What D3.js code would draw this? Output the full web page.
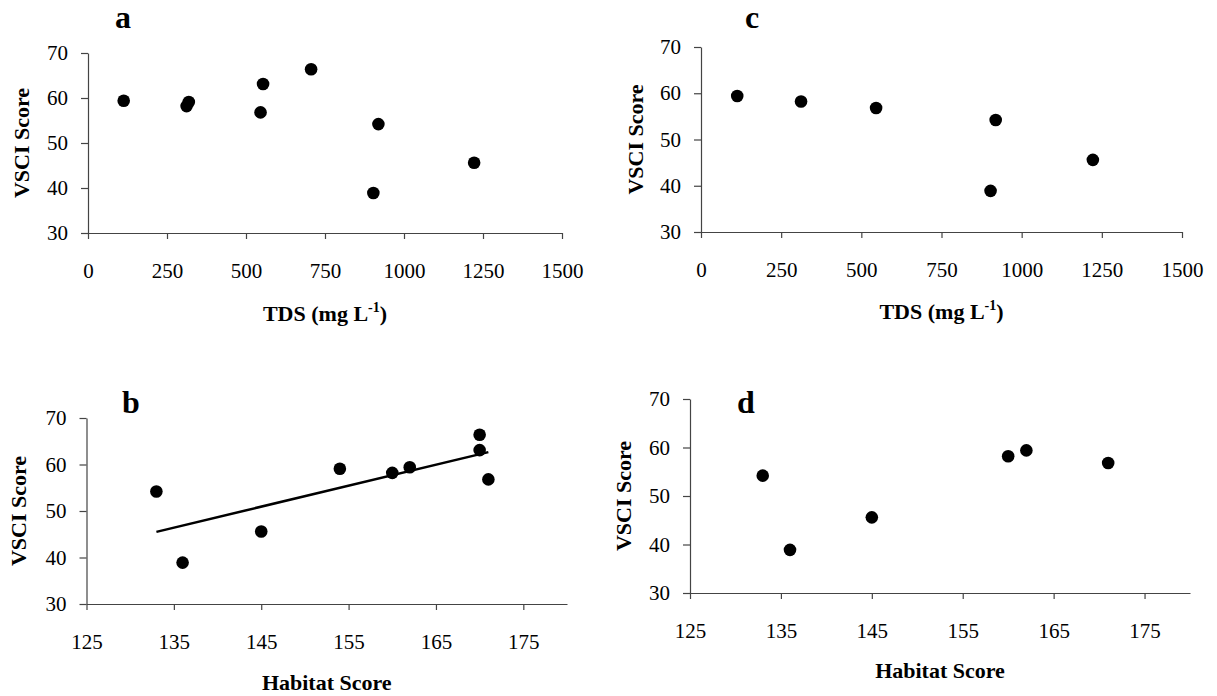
<!DOCTYPE html>
<html>
<head>
  <script src="https://d3js.org/d3.v7.min.js"></script>
  <style>
    body { margin: 0; background: #fff; }
    svg { display: block; }
    .axis path, .axis line { stroke: #444; stroke-width: 1.2px; }
    .title { font-family: "Liberation Serif", "Times New Roman", serif; font-weight: bold; font-size: 22px; fill: #000; }
    .letter { font-family: "Liberation Serif", "Times New Roman", serif; font-weight: bold; font-size: 32px; fill: #000; }
  </style>
</head>
<body>
  <div id="chart"></div>
  <script>
    // one entry per site
    const tdsValues = [113, 312, 319, 546, 554, 706, 919, 903, 1222];
    const habitatValues = [162, 160, 154, 171, 170, 170, 133, 136, 145];
    const vsciValues = [59.4, 58.2, 59.1, 56.8, 63.1, 66.4, 54.2, 38.9, 45.6];
    // sites kept in panels c and d
    const subsetSites = [0, 1, 3, 6, 7, 8];

    const tdsTicks = [0, 250, 500, 750, 1000, 1250, 1500];
    const habitatTicks = [125, 135, 145, 155, 165, 175];
    const vsciTicks = [30, 40, 50, 60, 70];

    const allSites = d3.range(tdsValues.length);

    const width = 1217;
    const height = 696;

    const svg = d3.select("#chart")
      .append("svg")
      .attr("width", width)
      .attr("height", height);

    const panels = [
      { letter: "a", xv: tdsValues, sites: allSites, xDomain: [0, 1500], xTicks: tdsTicks, xTitle: "tds",
        left: 88, right: 562, top: 53, bottom: 233, letterX: 123, letterY: 28, xTitleY: 321, yTitleX: 21, trend: false },
      { letter: "c", xv: tdsValues, sites: subsetSites, xDomain: [0, 1500], xTicks: tdsTicks, xTitle: "tds",
        left: 701, right: 1182, top: 47, bottom: 232, letterX: 752, letterY: 28, xTitleY: 319, yTitleX: 635, trend: false },
      { letter: "b", xv: habitatValues, sites: allSites, xDomain: [125, 180], xTicks: habitatTicks, xTitle: "Habitat Score",
        left: 86.5, right: 567, top: 418, bottom: 604, letterX: 131, letterY: 413, xTitleY: 690, yTitleX: 18, trend: true },
      { letter: "d", xv: habitatValues, sites: subsetSites, xDomain: [125, 180], xTicks: habitatTicks, xTitle: "Habitat Score",
        left: 690, right: 1190, top: 399, bottom: 593, letterX: 746, letterY: 413, xTitleY: 678, yTitleX: 623, trend: false }
    ];

    function styleTicks(sel) {
      sel.selectAll(".tick text")
        .style("font-family", "'Liberation Serif', serif")
        .style("font-size", "21px")
        .attr("fill", "#000");
    }

    panels.forEach((p) => {
      const x = d3.scaleLinear().domain(p.xDomain).range([p.left, p.right]);
      const y = d3.scaleLinear().domain([30, 70]).range([p.bottom, p.top]);
      const g = svg.append("g");

      g.append("g")
        .attr("class", "axis")
        .attr("transform", `translate(0,${p.bottom})`)
        .call(d3.axisBottom(x).tickValues(p.xTicks).tickFormat(d3.format("d"))
          .tickSize(6).tickSizeOuter(0).tickPadding(24))
        .call(styleTicks);

      g.append("g")
        .attr("class", "axis")
        .attr("transform", `translate(${p.left},0)`)
        .call(d3.axisLeft(y).tickValues(vsciTicks).tickSize(7).tickSizeOuter(0).tickPadding(13))
        .call(styleTicks);

      // regression line through the points
      if (p.trend) {
        const pts = p.sites.map((i) => [p.xv[i], vsciValues[i]]);
        const mx = d3.mean(pts, (d) => d[0]);
        const my = d3.mean(pts, (d) => d[1]);
        const slope = d3.sum(pts, (d) => (d[0] - mx) * (d[1] - my)) / d3.sum(pts, (d) => (d[0] - mx) ** 2);
        const [x0, x1] = d3.extent(pts, (d) => d[0]);
        g.append("line")
          .attr("x1", x(x0)).attr("y1", y(my + slope * (x0 - mx)))
          .attr("x2", x(x1)).attr("y2", y(my + slope * (x1 - mx)))
          .attr("stroke", "#000")
          .attr("stroke-width", 2.5);
      }

      g.selectAll("circle")
        .data(p.sites)
        .enter()
        .append("circle")
        .attr("cx", (i) => x(p.xv[i]))
        .attr("cy", (i) => y(vsciValues[i]))
        .attr("r", 6.3)
        .attr("fill", "#000");

      g.append("text")
        .attr("class", "letter")
        .attr("x", p.letterX)
        .attr("y", p.letterY)
        .attr("text-anchor", "middle")
        .text(p.letter);

      const xt = g.append("text")
        .attr("class", "title")
        .attr("x", (p.left + p.right) / 2)
        .attr("y", p.xTitleY)
        .attr("text-anchor", "middle");
      if (p.xTitle === "tds") {
        xt.append("tspan").text("TDS (mg L");
        xt.append("tspan").attr("dy", -9).style("font-size", "14px").text("-1");
        xt.append("tspan").attr("dy", 9).text(")");
      } else {
        xt.text(p.xTitle);
      }

      g.append("text")
        .attr("class", "title")
        .attr("transform", `translate(${p.yTitleX},${(p.top + p.bottom) / 2}) rotate(-90)`)
        .attr("dy", "0.35em")
        .attr("text-anchor", "middle")
        .text("VSCI Score");
    });
  </script>
</body>
</html>
